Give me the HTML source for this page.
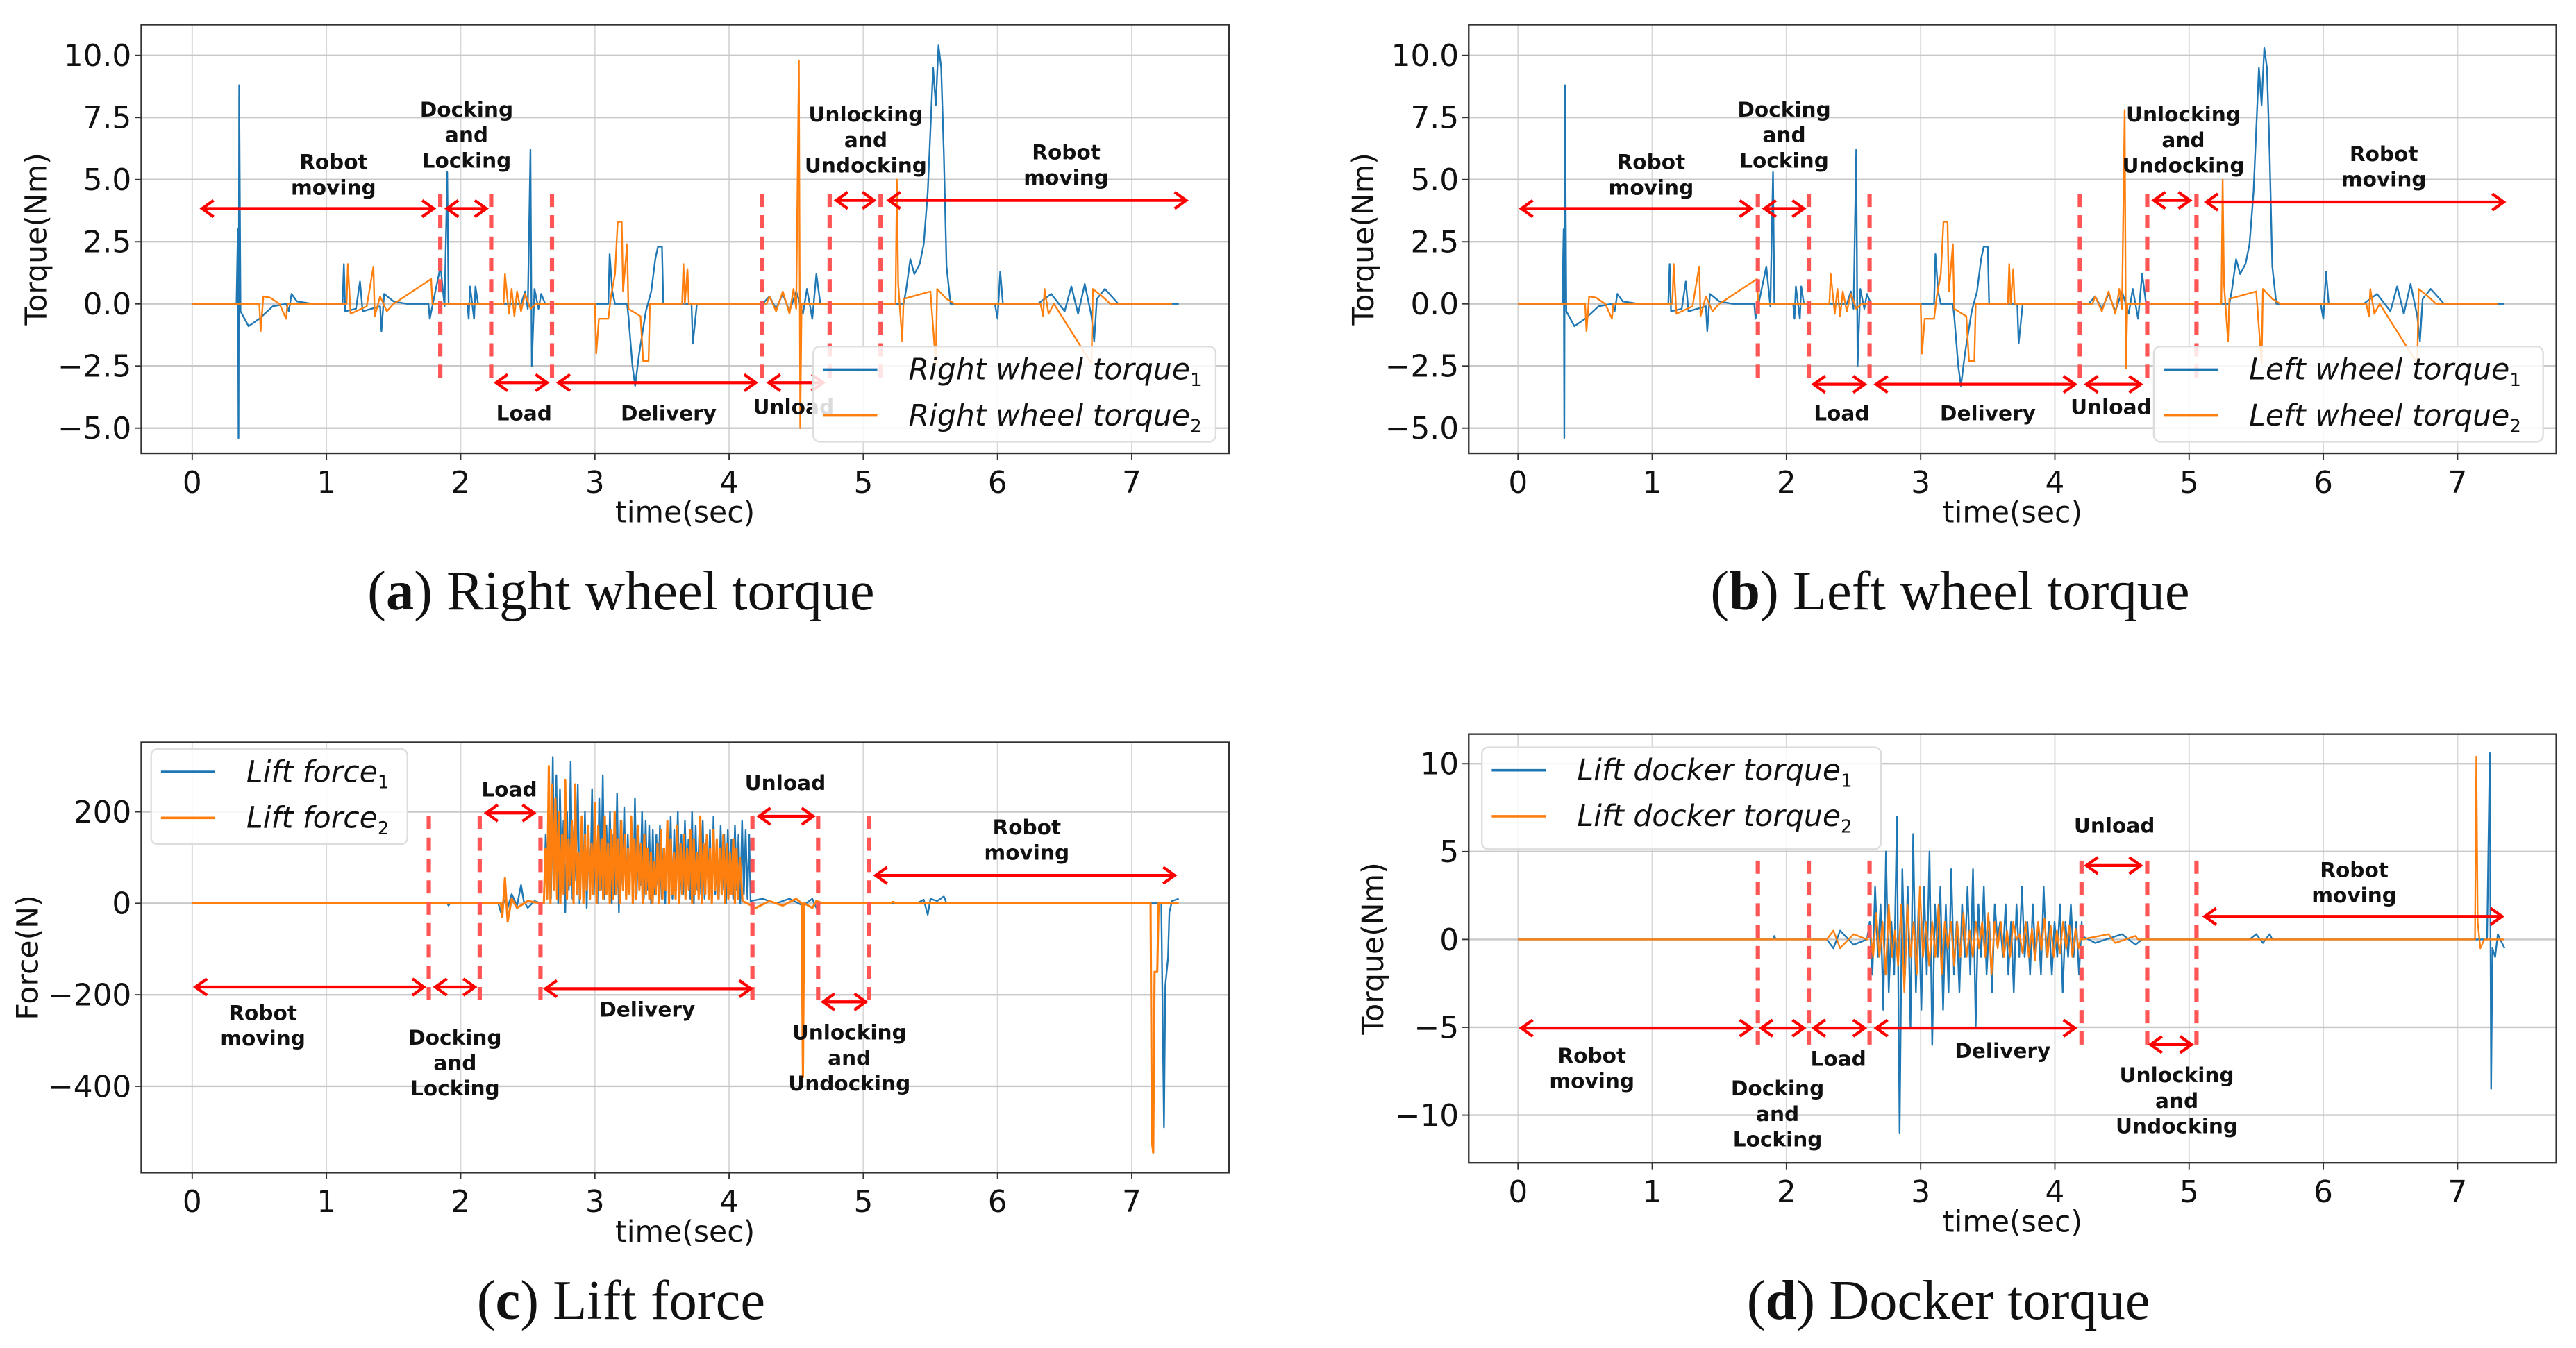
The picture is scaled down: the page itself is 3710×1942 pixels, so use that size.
<!DOCTYPE html>
<html><head><meta charset="utf-8"><style>
html,body{margin:0;padding:0;background:#fff;}
svg{display:block;}
</style></head><body>
<svg id="fig" xmlns="http://www.w3.org/2000/svg" width="3710" height="1942" viewBox="0 0 1568 820.76" font-family="DejaVu Sans, Liberation Sans, sans-serif"></svg>
<script>
// ---------- DATA ----------
const xTicks = [0,1,2,3,4,5,6,7];
const torqueTicks = [-5,-2.5,0,2.5,5,7.5,10];
const torqueTickLabels = ["\u22125.0","\u22122.5","0.0","2.5","5.0","7.5","10.0"];
const forceTicks = [-400,-200,0,200];
const forceTickLabels = ["\u2212400","\u2212200","0","200"];
const dockTicks = [-10,-5,0,5,10];
const dockTickLabels = ["\u221210","\u22125","0","5","10"];

const aBlue = [[0,0],[0.33,0],[0.34,3],[0.345,-5.4],[0.35,8.8],[0.36,-0.3],[0.42,-0.9],[0.5,-0.6],[0.6,-0.1],[0.7,0],[0.72,-0.3],[0.74,0.4],[0.78,0.1],[0.9,0],[1.12,0],[1.13,1.6],[1.14,-0.3],[1.22,-0.2],[1.25,0.9],[1.27,-0.3],[1.4,-0.1],[1.41,-1.1],[1.43,0.4],[1.5,0.1],[1.6,0],[1.76,0],[1.77,-0.6],[1.8,0.2],[1.85,1.5],[1.88,-0.1],[1.9,5.3],[1.91,0],[2.05,0],[2.06,-0.6],[2.07,0.7],[2.1,-0.6],[2.11,0.7],[2.13,0],[2.45,0],[2.48,0.5],[2.5,-0.2],[2.52,6.2],[2.53,-2.5],[2.55,0.6],[2.58,-0.2],[2.6,0.4],[2.63,0],[3.1,0],[3.11,2.0],[3.13,0.5],[3.15,0],[3.24,0],[3.25,-0.5],[3.28,-2.5],[3.3,-3.3],[3.33,-2.0],[3.38,-0.3],[3.42,0.5],[3.45,1.8],[3.47,2.3],[3.5,2.3],[3.51,0],[3.72,0],[3.73,-1.6],[3.76,0],[4.25,0],[4.3,0.3],[4.35,-0.2],[4.4,0.4],[4.45,-0.3],[4.5,0.5],[4.55,-0.4],[4.58,0.6],[4.62,-0.6],[4.65,1.2],[4.68,0],[5.3,0],[5.32,0.6],[5.35,1.8],[5.38,1.2],[5.42,1.6],[5.45,2.4],[5.48,4.5],[5.52,9.5],[5.54,8],[5.56,10.4],[5.58,9.5],[5.6,6],[5.62,1.5],[5.65,0],[5.98,0],[6.0,-0.6],[6.02,1.3],[6.04,0],[6.3,0],[6.4,0.4],[6.5,-0.3],[6.55,0.7],[6.6,-0.4],[6.65,0.8],[6.7,-0.5],[6.72,-1.5],[6.74,0.2],[6.8,0.6],[6.85,0.3],[6.9,0],[7.35,0]];
const aOrange = [[0,0],[0.5,0],[0.51,-1.1],[0.53,0.3],[0.58,0.25],[0.65,0],[0.7,-0.6],[0.71,0],[1.15,0],[1.16,1.6],[1.18,-0.4],[1.3,-0.1],[1.35,1.5],[1.36,-0.5],[1.4,0.3],[1.45,-0.3],[1.5,0],[1.78,1.0],[1.79,0],[2.32,0],[2.33,1.2],[2.36,-0.4],[2.38,0.6],[2.4,-0.5],[2.42,0.5],[2.45,-0.3],[2.48,0.4],[2.52,-0.2],[2.56,0],[3.0,0],[3.01,-2.0],[3.03,-0.6],[3.1,-0.6],[3.12,0.3],[3.15,1.2],[3.17,3.3],[3.2,3.3],[3.21,0.5],[3.24,2.4],[3.25,-0.2],[3.34,-0.5],[3.36,-2.3],[3.4,-2.3],[3.41,0],[3.65,0],[3.66,1.6],[3.67,0],[3.69,1.4],[3.7,0],[4.28,0],[4.3,0.3],[4.35,-0.3],[4.4,0.5],[4.45,-0.4],[4.48,0.6],[4.5,-0.2],[4.52,9.8],[4.53,-5],[4.54,0],[5.24,0],[5.25,5],[5.26,0.8],[5.29,-1.5],[5.3,0.2],[5.5,0.5],[5.54,-2.4],[5.55,0.6],[5.62,0.2],[5.68,0],[6.32,0],[6.34,-0.5],[6.35,0.6],[6.38,-0.4],[6.42,0],[6.7,-2.4],[6.71,0.6],[6.78,0.3],[6.84,0],[7.3,0]];

const bBlue = [[0,0],[0.33,0],[0.34,3],[0.345,-5.4],[0.35,8.8],[0.36,-0.3],[0.42,-0.9],[0.5,-0.6],[0.6,-0.1],[0.7,0],[0.72,-0.3],[0.74,0.4],[0.78,0.1],[0.9,0],[1.12,0],[1.13,1.6],[1.14,-0.3],[1.22,-0.2],[1.25,0.9],[1.27,-0.3],[1.4,-0.1],[1.41,-1.1],[1.43,0.4],[1.5,0.1],[1.6,0],[1.76,0],[1.77,-0.6],[1.8,0.2],[1.85,1.5],[1.88,-0.1],[1.9,5.3],[1.91,0],[2.05,0],[2.06,-0.6],[2.07,0.7],[2.1,-0.6],[2.11,0.7],[2.13,0],[2.45,0],[2.48,0.5],[2.5,-0.2],[2.52,6.2],[2.53,-2.5],[2.55,0.6],[2.58,-0.2],[2.6,0.4],[2.63,0],[3.1,0],[3.11,2.0],[3.13,0.5],[3.15,0],[3.24,0],[3.25,-0.5],[3.28,-2.5],[3.3,-3.3],[3.33,-2.0],[3.38,-0.3],[3.42,0.5],[3.45,1.8],[3.47,2.3],[3.5,2.3],[3.51,0],[3.72,0],[3.73,-1.6],[3.76,0],[4.25,0],[4.3,0.3],[4.35,-0.2],[4.4,0.4],[4.45,-0.3],[4.5,0.5],[4.55,-0.4],[4.58,0.6],[4.62,-0.6],[4.65,1.2],[4.68,0],[5.3,0],[5.32,0.6],[5.35,1.8],[5.38,1.2],[5.42,1.6],[5.45,2.4],[5.48,4.5],[5.52,9.5],[5.54,8],[5.56,10.3],[5.58,9.5],[5.6,6],[5.62,1.5],[5.65,0],[5.98,0],[6.0,-0.6],[6.02,1.3],[6.04,0],[6.3,0],[6.4,0.4],[6.5,-0.3],[6.55,0.7],[6.6,-0.4],[6.65,0.8],[6.7,-0.5],[6.72,-1.5],[6.74,0.2],[6.8,0.6],[6.85,0.3],[6.9,0],[7.35,0]];
const bOrange = [[0,0],[0.5,0],[0.51,-1.1],[0.53,0.3],[0.58,0.25],[0.65,0],[0.7,-0.6],[0.71,0],[1.15,0],[1.16,1.6],[1.18,-0.4],[1.3,-0.1],[1.35,1.5],[1.36,-0.5],[1.4,0.3],[1.45,-0.3],[1.5,0],[1.78,1.0],[1.79,0],[2.32,0],[2.33,1.2],[2.36,-0.4],[2.38,0.6],[2.4,-0.5],[2.42,0.5],[2.45,-0.3],[2.48,0.4],[2.52,-0.2],[2.56,0],[3.0,0],[3.01,-2.0],[3.03,-0.6],[3.1,-0.6],[3.12,0.3],[3.15,1.2],[3.17,3.3],[3.2,3.3],[3.21,0.5],[3.24,2.4],[3.25,-0.2],[3.34,-0.5],[3.36,-2.3],[3.4,-2.3],[3.41,0],[3.65,0],[3.66,1.6],[3.67,0],[3.69,1.4],[3.7,0],[4.28,0],[4.3,0.3],[4.35,-0.3],[4.4,0.5],[4.45,-0.4],[4.48,0.6],[4.5,-0.2],[4.52,7.8],[4.53,-2.6],[4.54,0],[5.24,0],[5.25,5],[5.26,0.8],[5.29,-1.5],[5.3,0.2],[5.5,0.5],[5.54,-2.4],[5.55,0.6],[5.62,0.2],[5.68,0],[6.32,0],[6.34,-0.5],[6.35,0.6],[6.38,-0.4],[6.42,0],[6.7,-2.4],[6.71,0.6],[6.78,0.3],[6.84,0],[7.3,0]];

const cBluePre = [[0,0],[1.9,0],[1.91,-5],[1.92,0],[2.28,0],[2.3,-20],[2.32,10],[2.35,-10],[2.38,20],[2.42,-5],[2.45,40],[2.47,5],[2.5,-10],[2.55,5],[2.6,0]];
const cBlueBurstSpan = [2.62,4.15];
const cBlueBurst = [0,150,20,230,10,320,40,280,0,250,60,180,-20,200,30,310,10,170,50,260,0,140,30,200,-10,160,40,250,20,140,0,230,30,280,10,170,50,200,0,150,20,240,-20,180,40,210,10,150,30,190,0,230,20,160,40,200,10,180,30,170,0,160,20,150,40,170,10,120,0,170,20,190,10,160,30,200,0,150,20,180,40,140,10,200,0,170,30,150,20,180,10,140,40,160,0,190,20,130,10,170,30,150,0,160,20,140,10,170,30,150,0,180,20,160,10,150];
const cBluePost = [[4.16,5],[4.25,10],[4.35,0],[4.45,10],[4.55,-5],[4.62,10],[4.65,-10],[4.68,0],[5.4,0],[5.45,8],[5.48,-25],[5.5,10],[5.55,5],[5.6,15],[5.62,0],[7.22,0],[7.24,-490],[7.25,-180],[7.27,-120],[7.28,-20],[7.3,5],[7.35,10]];
const cOrangePre = [[0,0],[2.3,0],[2.31,-30],[2.33,55],[2.35,-40],[2.38,10],[2.42,-10],[2.5,5],[2.6,0]];
const cOrangeBurstSpan = [2.62,4.08];
const cOrangeBurst = [0,120,10,300,0,260,30,230,10,200,0,150,20,270,10,140,40,180,0,260,20,110,10,190,0,150,30,170,10,130,20,220,0,170,30,140,10,190,20,130,0,160,10,200,20,140,0,180,30,150,10,120,20,190,0,140,10,170,30,130,0,150,20,120,10,110,0,90,20,130,0,160,10,120,30,180,0,140,20,110,10,170,0,130,20,150,10,120,30,160,0,140,20,110,10,190,0,130,20,150,10,120,0,160,30,140,10,120,20,150,0,130,10,110,20,140,0,120,10,100];
const cOrangePost = [[4.1,5],[4.2,-10],[4.3,5],[4.4,-5],[4.5,10],[4.54,0],[4.55,-380],[4.56,0],[4.62,-10],[4.65,5],[4.7,0],[5.2,0],[5.22,3],[5.25,0],[7.14,0],[7.15,-520],[7.16,-545],[7.17,-150],[7.19,-150],[7.2,0],[7.35,0]];

const dBluePre = [[0,0],[1.9,0],[1.91,0.2],[1.92,0],[2.3,0],[2.35,-0.5],[2.4,0.5],[2.5,-0.3],[2.6,0]];
const dBlueBurstSpan = [2.6,4.2];
const dBlueBurst = [0,1,-2,3,-1,2,-4,5,-3,1,-2,7,-11,4,-2,3,-5,6,-3,2,-4,3,-2,5,-6,2,-1,3,-4,2,-3,4,-2,1,-3,2,-1,3,-2,4,-5,2,-1,3,-2,1,-3,2,0,1,-1,2,-2,1,-3,2,-1,3,-1,1,-2,2,-1,1,-2,3,-1,1,-2,1,-1,2,-3,1,-1,2,-1,1,-2,1];
const dBluePost = [[4.2,0.2],[4.3,-0.2],[4.5,0.3],[4.6,-0.3],[4.65,0],[5.45,0],[5.5,0.3],[5.55,-0.2],[5.6,0.3],[5.62,0],[7.22,0],[7.24,10.6],[7.25,-8.5],[7.26,-0.5],[7.28,-1],[7.3,0.3],[7.35,-0.5]];
const dOrangePre = [[0,0],[2.3,0],[2.35,0.5],[2.4,-0.5],[2.5,0.3],[2.6,0]];
const dOrangeBurstSpan = [2.6,4.2];
const dOrangeBurst = [0,0.5,-1,1.5,-1,1,-2,2,-1,0.5,-1.5,2,-3,2,-1,1,-2,3,-1,1,-1.5,1,-1,2,-2,1,-0.5,1,-1.5,1,-1,1.5,-1,0.5,-1,1,-0.5,1,-1,1.5,-2,1,-0.5,1,-1,0.5,-1,1,0,0.3,-0.8,1,-1,0.6,-1.2,1,-0.6,1.2,-1,0.8,-1,0.5,-0.8,1,-0.5,0.8,-1,0.6,-0.5,0.4];
const dOrangePost = [[4.2,0],[4.4,0.3],[4.45,-0.2],[4.6,0.2],[4.62,0],[7.13,0],[7.14,10.4],[7.15,1],[7.17,-0.5],[7.2,0],[7.35,0]];

// ---------- DRAWING ----------
const NS = "http://www.w3.org/2000/svg";
const fig = document.getElementById('fig');
const BLUE = "#1f77b4", ORANGE = "#ff7f0e", RED = "#ff0000", DASH = "#ff5555";
function el(tag, attrs, parent) {
  const e = document.createElementNS(NS, tag);
  for (const k in attrs) e.setAttribute(k, attrs[k]);
  (parent || fig).appendChild(e);
  return e;
}
function burstPts(span, vals) {
  const out = [];
  const n = vals.length;
  for (let i = 0; i < n; i++) out.push([span[0] + (span[1]-span[0]) * i / (n-1), vals[i]]);
  return out;
}
let clipId = 0;
function panel(cfg) {
  const g = el('g', {});
  
  
  const X = t => cfg.x0 + t * 81.7;
  const Y = v => cfg.y0 - v * cfg.yk;
  const L = cfg.box[0], R = cfg.box[1], T = cfg.box[2], B = cfg.box[3];
  xTicks.forEach(t => {
    const ln = el('line', {x1:X(t), x2:X(t), y1:T, y2:B, stroke:'#d8d8d8', 'stroke-width':0.8}, g);
    
    
  });
  cfg.yt.forEach(v => {
    const ln = el('line', {x1:L, x2:R, y1:Y(v), y2:Y(v), stroke:'#c8c8c8', 'stroke-width':1}, g);
    
    
  });
  clipId++;
  const cp = el('clipPath', {id:'cp'+clipId}, g);
  el('rect', {x:L, y:T, width:R-L, height:B-T}, cp);
  const pg = el('g', {'clip-path':'url(#cp'+clipId+')'}, g);
  cfg.series.forEach(s => {
    const d = s.pts.map((p,i) => (i?'L':'M') + X(p[0]).toFixed(2) + ' ' + Y(p[1]).toFixed(2)).join(' ');
    const p = el('path', {d:d, fill:'none', stroke:s.color, 'stroke-width':s.w || 1, 'stroke-linejoin':'round'}, pg);
    
    
  });
  const fr = el('rect', {x:L, y:T, width:R-L, height:B-T, fill:'none', stroke:'#333', 'stroke-width':1}, g);
  
  
  xTicks.forEach(t => {
    el('line', {x1:X(t), x2:X(t), y1:B, y2:B+4, stroke:'#333', 'stroke-width':0.8}, g);
    const tx = el('text', {x:X(t), y:B+24, 'font-size':18.5, 'text-anchor':'middle', fill:'#111'}, g);
    tx.textContent = String(t);
    
    
  });
  cfg.yt.forEach((v,i) => {
    el('line', {x1:L-4, x2:L, y1:Y(v), y2:Y(v), stroke:'#333', 'stroke-width':0.8}, g);
    const tx = el('text', {x:L-6, y:Y(v)+6.5, 'font-size':18.5, 'text-anchor':'end', fill:'#111'}, g);
    tx.textContent = cfg.ytl[i];
    
    
  });
  const xl = el('text', {x:(L+R)/2, y:B+42, 'font-size':18, 'text-anchor':'middle', fill:'#111'}, g);
  xl.textContent = 'time(sec)';
  
  
  const yl = el('text', {x:0, y:0, 'font-size':18, 'text-anchor':'middle', fill:'#111', transform:'translate('+cfg.ylx+','+((T+B)/2)+') rotate(-90)'}, g);
  yl.textContent = cfg.ylabel;
  
  
  cfg.dashes.forEach(d => {
    const ln = el('line', {x1:d[0], x2:d[0], y1:d[1], y2:d[2], stroke:DASH, 'stroke-width':2.6, 'stroke-dasharray':'8,5'}, g);
    
    
  });
  cfg.arrows.forEach(a => {
    const ag = el('g', {stroke:RED, 'stroke-width':1.8, fill:'none'}, g);
    
    
    el('line', {x1:a[0], x2:a[1], y1:a[2], y2:a[2]}, ag);
    el('path', {d:`M${a[0]+7} ${a[2]-5} L${a[0]} ${a[2]} L${a[0]+7} ${a[2]+5}`}, ag);
    el('path', {d:`M${a[1]-7} ${a[2]-5} L${a[1]} ${a[2]} L${a[1]-7} ${a[2]+5}`}, ag);
  });
  cfg.labels.forEach(lb => {
    lb[2].forEach((line, i) => {
      const tx = el('text', {x:lb[0], y:lb[1] + i*15.5, 'font-size':12.5, 'font-weight':'bold', 'text-anchor':'middle', fill:'#111'}, g);
      tx.textContent = line;
      
      
    });
  });
  const lg = cfg.legend;
  const lgg = el('g', {}, g);
  
  
  el('rect', {x:lg.x, y:lg.y, width:lg.w, height:lg.h, rx:4, fill:'#fff', 'fill-opacity':0.85, stroke:'#ddd', 'stroke-width':1}, lgg);
  [[BLUE, lg.t1, 0],[ORANGE, lg.t2, 1]].forEach(e => {
    const yy = lg.y + 14 + e[2]*28;
    const le = el('g', {}, lgg);
    
    
    el('line', {x1:lg.x+6, x2:lg.x+39, y1:yy, y2:yy, stroke:e[0], 'stroke-width':1.5}, le);
    const tx = el('text', {x:lg.x+58, y:yy+6, 'font-size':18, 'font-style':'italic', fill:'#111'}, le);
    tx.textContent = e[1];
    const sub = el('tspan', {'font-size':11, 'font-style':'normal', dy:4}, tx);
    sub.textContent = String(e[2]+1);
  });
  const cap = el('text', {x:cfg.cap[0], y:cfg.cap[1], 'font-size':34, 'text-anchor':'middle', fill:'#111', 'font-family':'Liberation Serif, serif'}, g);
  
  
  const b1 = el('tspan', {}, cap); b1.textContent = '(';
  const b2 = el('tspan', {'font-weight':'bold'}, cap); b2.textContent = cfg.cap[2];
  const b3 = el('tspan', {}, cap); b3.textContent = ') ' + cfg.cap[3];
}

panel({name:'right-wheel-torque-chart', box:[86,748,15,276], x0:117, y0:185, yk:15.13, yt:torqueTicks, ytl:torqueTickLabels, ylx:28, ylabel:'Torque(Nm)',
  series:[{name:'right-wheel-torque-1-line', pts:aBlue, color:BLUE},{name:'right-wheel-torque-2-line', pts:aOrange, color:ORANGE}],
  dashes:[[268,118,234],[299,118,234],[336,118,234],[464,118,234],[505,118,234],[536,118,234]],
  arrows:[[123,264,127],[272,296,127],[302,333,233],[340,460,233],[468,501,233],[509,532,122],[541,722,122]],
  labels:[[203,103,['Robot','moving']],[284,71,['Docking','and','Locking']],[527,74,['Unlocking','and','Undocking']],[649,97,['Robot','moving']],[319,256,['Load']],[407,256,['Delivery']],[483,252,['Unload']]],
  legend:{x:495,y:211,w:245,h:58,t1:'Right wheel torque',t2:'Right wheel torque'}, cap:[378,371,'a','Right wheel torque']});
panel({name:'left-wheel-torque-chart', box:[894,1556,15,276], x0:924, y0:185, yk:15.13, yt:torqueTicks, ytl:torqueTickLabels, ylx:836, ylabel:'Torque(Nm)',
  series:[{name:'left-wheel-torque-1-line', pts:bBlue, color:BLUE},{name:'left-wheel-torque-2-line', pts:bOrange, color:ORANGE}],
  dashes:[[1070,118,234],[1101,118,234],[1138,118,234],[1266,118,234],[1307,118,234],[1337,118,234]],
  arrows:[[926,1066,127],[1074,1098,127],[1104,1135,234],[1142,1263,234],[1270,1303,234],[1311,1333,122],[1343,1524,123]],
  labels:[[1005,103,['Robot','moving']],[1086,71,['Docking','and','Locking']],[1329,74,['Unlocking','and','Undocking']],[1451,98,['Robot','moving']],[1121,256,['Load']],[1210,256,['Delivery']],[1285,252,['Unload']]],
  legend:{x:1311,y:211,w:237,h:58,t1:'Left wheel torque',t2:'Left wheel torque'}, cap:[1187,371,'b','Left wheel torque']});
panel({name:'lift-force-chart', box:[86,748,452,714], x0:117, y0:550, yk:0.2785, yt:forceTicks, ytl:forceTickLabels, ylx:23, ylabel:'Force(N)',
  series:[{name:'lift-force-1-line', pts:cBluePre.concat(burstPts(cBlueBurstSpan,cBlueBurst), cBluePost), color:BLUE},
          {name:'lift-force-2-line', pts:cOrangePre.concat(burstPts(cOrangeBurstSpan,cOrangeBurst), cOrangePost), color:ORANGE, w:1.3}],
  dashes:[[261,497,612],[292,497,612],[329,497,612],[458,497,612],[498,497,612],[529,497,612]],
  arrows:[[119,258,601],[265,289,601],[296,325,495],[332,457,602],[462,495,497],[501,527,610],[533,715,533]],
  labels:[[160,621,['Robot','moving']],[277,636,['Docking','and','Locking']],[310,485,['Load']],[394,619,['Delivery']],[478,481,['Unload']],[517,633,['Unlocking','and','Undocking']],[625,508,['Robot','moving']]],
  legend:{x:92,y:456,w:156,h:58,t1:'Lift force',t2:'Lift force'}, cap:[378,803,'c','Lift force']});
panel({name:'docker-torque-chart', box:[894,1556,447,708], x0:924, y0:572, yk:10.7, yt:dockTicks, ytl:dockTickLabels, ylx:842, ylabel:'Torque(Nm)',
  series:[{name:'lift-docker-torque-1-line', pts:dBluePre.concat(burstPts(dBlueBurstSpan,dBlueBurst), dBluePost), color:BLUE},
          {name:'lift-docker-torque-2-line', pts:dOrangePre.concat(burstPts(dOrangeBurstSpan,dOrangeBurst), dOrangePost), color:ORANGE}],
  dashes:[[1070,524,637],[1101,524,637],[1138,524,637],[1267,524,637],[1307,524,637],[1337,524,637]],
  arrows:[[926,1066,626],[1072,1098,626],[1104,1135,626],[1142,1263,626],[1270,1303,527],[1309,1334,636],[1342,1523,558]],
  labels:[[969,647,['Robot','moving']],[1082,667,['Docking','and','Locking']],[1119,649,['Load']],[1219,644,['Delivery']],[1287,507,['Unload']],[1325,659,['Unlocking','and','Undocking']],[1433,534,['Robot','moving']]],
  legend:{x:902,y:455,w:243,h:62,t1:'Lift docker torque',t2:'Lift docker torque'}, cap:[1186,803,'d','Docker torque']});
</script>
</body></html>
